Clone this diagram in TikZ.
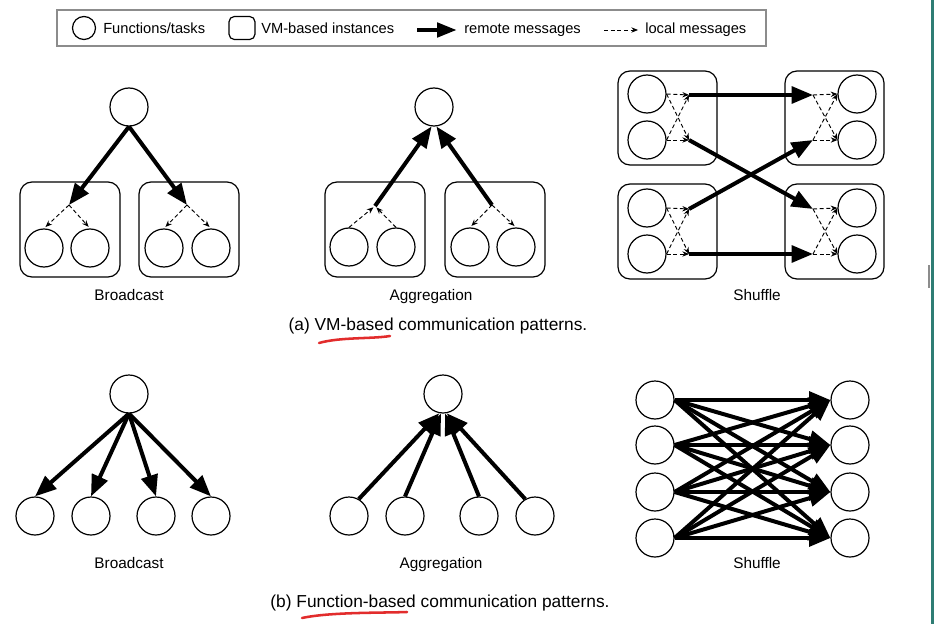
\documentclass[tikz,border=0pt]{standalone}
\usepackage{fontspec}
\setmainfont{Liberation Sans}
\usetikzlibrary{arrows.meta}
\definecolor{barteal}{RGB}{46,125,116}
\definecolor{penred}{RGB}{226,44,44}
\begin{document}
\begin{tikzpicture}[x=0.75pt,y=-0.75pt,
  task/.style={circle,draw,line width=0.9pt,minimum size=28.5pt,inner sep=0pt},
  vmbox/.style={draw,rounded corners=9pt,line width=0.9pt,inner sep=0pt},
  remote/.style={line width=3pt,-{Triangle[length=16pt,width=12.5pt]}},
  localmsg/.style={line width=0.7pt,dash pattern=on 3pt off 2pt,-{Stealth[length=5pt,width=4pt]}},
  lgd/.style={font=\fontsize{11}{13}\selectfont,inner sep=0pt,anchor=base west},
  lbl/.style={font=\fontsize{11.5}{13}\selectfont,inner sep=0pt,anchor=base},
  capt/.style={font=\fontsize{13}{15}\selectfont,inner sep=0pt,anchor=base},
]
\useasboundingbox (0,0) rectangle (934,624);
\fill[white] (0,0) rectangle (934,624);

% ---------- legend ----------
\node[draw=black!45,line width=1pt,minimum width=531.75pt,minimum height=27pt,inner sep=0pt] (legend) at (411.5,28) {};
\node[task,minimum size=17.25pt] (lgcirc) at (84,28) {};
\node[lgd] (lgt1) at (103,34) {Functions/tasks};
\node[vmbox,rounded corners=4pt,minimum width=19.5pt,minimum height=17.25pt] (lgbox) at (242,28) {};
\node[lgd] (lgt2) at (261,34) {VM-based instances};
\coordinate (lra) at (417,30);
\coordinate (lrb) at (457,30);
\draw[line width=3.5pt,-{Triangle[length=15pt,width=10.5pt]}] (lra) -- (lrb);
\node[lgd] (lgt3) at (464,34) {remote messages};
\coordinate (lla) at (604,30);
\coordinate (llb) at (638,30);
\draw[localmsg] (lla) -- (llb);
\node[lgd] (lgt4) at (645,34) {local messages};

% ---------- (a) Broadcast ----------
\node[task] (ab) at (129,107) {};
\node[vmbox,minimum width=75pt,minimum height=71.25pt] (abx1) at (70,229.5) {};
\node[vmbox,minimum width=75pt,minimum height=71.25pt] (abx2) at (189,229.5) {};
\node[task] (ab1) at (44,248) {};
\node[task] (ab2) at (90,248) {};
\node[task] (ab3) at (164,248) {};
\node[task] (ab4) at (211,248) {};
\coordinate (abj1) at (69,205);
\coordinate (abj2) at (187,205);
\draw[remote] (ab.south) -- (abj1);
\draw[remote] (ab.south) -- (abj2);
\draw[localmsg,shorten >=1.5pt] (abj1) -- (ab1.north);
\draw[localmsg,shorten >=1.5pt] (abj1) -- (ab2.north);
\draw[localmsg,shorten >=1.5pt] (abj2) -- (ab3.north);
\draw[localmsg,shorten >=1.5pt] (abj2) -- (ab4.north);
\node[lbl] (labA1) at (129,300) {Broadcast};

% ---------- (a) Aggregation ----------
\node[task] (ag) at (434,107) {};
\node[vmbox,minimum width=75pt,minimum height=71.25pt] (agx1) at (375,229.5) {};
\node[vmbox,minimum width=75pt,minimum height=71.25pt] (agx2) at (495,229.5) {};
\node[task] (ag1) at (349,247) {};
\node[task] (ag2) at (396,247) {};
\node[task] (ag3) at (470,247) {};
\node[task] (ag4) at (516,247) {};
\coordinate (agj1) at (375,206);
\coordinate (agj2) at (492,205);
\draw[remote] (agj1) -- (ag.263);
\draw[remote] (agj2) -- (ag.277);
\draw[localmsg,shorten >=1.5pt] (ag1.north) -- (agj1);
\draw[localmsg,shorten >=1.5pt] (ag2.north) -- (agj1);
\draw[localmsg,shorten >=1.5pt] (agj2) -- (ag3.north);
\draw[localmsg,shorten >=1.5pt] (agj2) -- (ag4.north);
\node[lbl] (labA2) at (431,300) {Aggregation};

% ---------- (a) Shuffle ----------
\node[vmbox,minimum width=74.25pt,minimum height=70.5pt] (sx1) at (667.5,118) {};
\node[vmbox,minimum width=74.25pt,minimum height=71.25pt] (sx2) at (667.5,231.5) {};
\node[vmbox,minimum width=74.25pt,minimum height=70.5pt] (sx3) at (834.5,118) {};
\node[vmbox,minimum width=74.25pt,minimum height=71.25pt] (sx4) at (834.5,231.5) {};
\node[task] (s1) at (647,94) {};
\node[task] (s2) at (647,140) {};
\node[task] (s3) at (647,208) {};
\node[task] (s4) at (647,254) {};
\node[task] (t1) at (857,94) {};
\node[task] (t2) at (857,140) {};
\node[task] (t3) at (857,208) {};
\node[task] (t4) at (857,254) {};
\coordinate (J1) at (689,95);
\coordinate (J2) at (689,140);
\coordinate (J3) at (689,209);
\coordinate (J4) at (689,254);
\coordinate (K1) at (813,95);
\coordinate (K2) at (813,140);
\coordinate (K3) at (813,209);
\coordinate (K4) at (813,254);
\foreach \a/\b/\c/\d in {s1/s2/J1/J2, s3/s4/J3/J4}{
  \draw[localmsg] (\a.east) -- (\c);
  \draw[localmsg] (\a.east) -- (\d);
  \draw[localmsg] (\b.east) -- (\c);
  \draw[localmsg] (\b.east) -- (\d);
}
\foreach \a/\b/\c/\d in {K1/K2/t1/t2, K3/K4/t3/t4}{
  \draw[localmsg] (\a) -- (\c.west);
  \draw[localmsg] (\a) -- (\d.west);
  \draw[localmsg] (\b) -- (\c.west);
  \draw[localmsg] (\b) -- (\d.west);
}
\draw[remote] (J1) -- (K1);
\draw[remote] (J2) -- (K3);
\draw[remote] (J3) -- (K2);
\draw[remote] (J4) -- (K4);
\node[lbl] (labA3) at (757,300) {Shuffle};

\node[capt] (captA) at (438,330) {(a) VM-based communication patterns.};
\draw[penred,line width=1.9pt,line cap=round] (319,343) .. controls (340,337) and (372,339) .. (390,336);

% ---------- (b) Broadcast ----------
\node[task] (bb) at (129,394) {};
\node[task] (bb1) at (35,516) {};
\node[task] (bb2) at (91,516) {};
\node[task] (bb3) at (156,516) {};
\node[task] (bb4) at (211,516) {};
\foreach \i in {1,...,4}{\draw[remote] (bb.south) -- (bb\i.north);}
\node[lbl] (labB1) at (129,568) {Broadcast};

% ---------- (b) Aggregation ----------
\node[task] (bg) at (443,394) {};
\node[task] (bg1) at (349,516) {};
\node[task] (bg2) at (405,516) {};
\node[task] (bg3) at (479,516) {};
\node[task] (bg4) at (535,516) {};
\draw[remote] (bg1.60) -- (bg.259);
\draw[remote] (bg2.north) -- (bg.264);
\draw[remote] (bg3.north) -- (bg.276);
\draw[remote] (bg4.120) -- (bg.281);
\node[lbl] (labB2) at (441,568) {Aggregation};

% ---------- (b) Shuffle ----------
\node[task] (l1) at (655,400) {};
\node[task] (l2) at (655,445) {};
\node[task] (l3) at (655,492) {};
\node[task] (l4) at (655,538) {};
\node[task] (r1) at (850,400) {};
\node[task] (r2) at (850,445) {};
\node[task] (r3) at (850,492) {};
\node[task] (r4) at (850,538) {};
\foreach \i in {1,...,4}{
  \foreach \j in {1,...,4}{
    \draw[remote] (l\i.east) -- (r\j.west);
  }
}
\node[lbl] (labB3) at (757,568) {Shuffle};

\node[capt] (captB) at (440,607) {(b) Function-based communication patterns.};
\draw[penred,line width=1.9pt,line cap=round] (302,618) .. controls (330,612) and (380,613) .. (407,612);

% ---------- screen edge ----------
\fill[barteal] (931,0) rectangle (934,624);
\fill[black!45] (927.5,265) rectangle (929.5,288);
\end{tikzpicture}
\end{document}
